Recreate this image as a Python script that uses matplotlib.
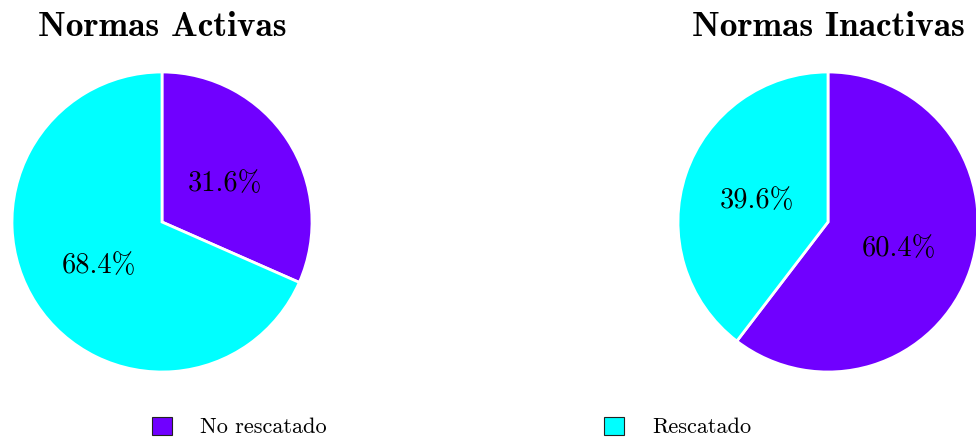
import matplotlib
matplotlib.use("Agg")
import matplotlib.pyplot as plt
from matplotlib.patches import Patch

plt.rcParams['axes.unicode_minus'] = False

categories = ["No rescatado", "Rescatado"]
activas = [31.6, 68.4]
inactivas = [60.4, 39.6]
titles = ["Normas Activas", "Normas Inactivas"]
colors = ["#7000ff", "#00ffff"]

W, H = 976, 437
fig = plt.figure(figsize=(W / 100, H / 100), dpi=100)

R = 150
centers = [(162, 222), (828, 222)]

for (cx, cy), vals, title in zip(centers, [activas, inactivas], titles):
    ax = fig.add_axes([(cx - R) / W, (H - cy - R) / H, 2 * R / W, 2 * R / H])
    wedges, texts, autotexts = ax.pie(
        vals, colors=colors, startangle=90, counterclock=False,
        autopct=lambda p: f"{p:.1f}%", pctdistance=0.5,
        wedgeprops=dict(edgecolor="white", linewidth=2),
        textprops=dict(fontfamily="cmr10", fontsize=20.5, color="black"))
    for t in autotexts:
        x, y = t.get_position()
        t.set_position((x, y - 0.02))
    for w in wedges:
        w.set_clip_on(False)
    ax.set_xlim(-1, 1)
    ax.set_ylim(-1, 1)
    ax.set_aspect("equal")
    ax.axis("off")
    fig.text(cx / W, 1 - 28 / H, title, ha="center", va="center",
             fontfamily="cmb10", fontsize=25.5)

handles = [Patch(facecolor=c, edgecolor="#222222", linewidth=0.8) for c in colors]
fs = 16
leg = fig.legend(handles, categories, loc="center left",
                 bbox_to_anchor=(152 / W, 1 - 427 / H), ncol=2, frameon=False,
                 prop=dict(family="cmr10", size=fs),
                 handlelength=0.9, handleheight=0.86, handletextpad=1.26,
                 columnspacing=12.5, borderaxespad=0, borderpad=0)

fig.savefig("out.png", dpi=100)
